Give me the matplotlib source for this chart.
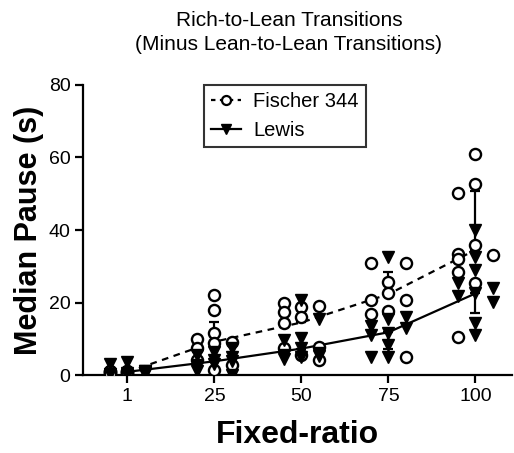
import matplotlib
matplotlib.use("Agg")
import matplotlib.pyplot as plt
import numpy as np

ratios = ["1", "25", "50", "75", "100"]

# individual subjects, per fixed-ratio
fischer_pts = [
    [0.3, 0.5, 0.8, 1.0, 1.0, 1.2, 0.6, 0.9, 1.1, 0.4],
    [22.1, 17.9, 11.5, 9.2, 10.0, 7.4, 4.1, 2.8, 1.4, 8.8],
    [20.0, 18.8, 17.5, 19.0, 16.0, 14.3, 7.8, 7.4, 5.5, 4.1],
    [30.8, 30.8, 25.7, 22.7, 20.7, 20.7, 17.7, 16.8, 4.9],
    [61.0, 52.7, 50.1, 35.9, 33.3, 33.1, 31.9, 28.5, 25.5, 10.6],
]
lewis_pts = [
    [3.6, 3.0, 1.0, 0.5, 0.2, 0.8, 0.3, 1.2, 0.6, 0.0],
    [7.4, 6.3, 5.5, 5.0, 4.1, 4.0, 3.0, 2.8, 1.0, 0.0],
    [20.7, 15.6, 10.1, 9.7, 7.4, 6.0, 5.5, 5.2, 5.0, 4.5],
    [32.6, 16.1, 15.6, 13.5, 12.9, 11.5, 11.0, 8.3, 5.0, 5.0],
    [40.0, 32.6, 29.0, 25.3, 23.9, 22.5, 21.8, 20.2, 14.3, 11.0],
]

fischer_mean = [0.8, 9.2, 14.5, 22.3, 34.5]
fischer_sd = [0.5, 5.3, 4.5, 6.2, 16.3]
lewis_mean = [0.9, 3.8, 7.3, 11.8, 22.5]
lewis_sd = [0.8, 3.0, 2.0, 4.5, 5.5]


def swarm(vals, step=0.2, gap=2.8):
    # spread overlapping points into columns, graphpad style
    cols = [0, -step, step]
    placed = []
    offs = np.zeros(len(vals))
    for i in np.argsort(vals)[::-1]:
        best, bestd = 0, -1
        for c in cols:
            d = min([abs(vals[i] - v) for o, v in placed if o == c] + [99])
            if d >= gap:
                best = c
                break
            if d > bestd:
                best, bestd = c, d
        offs[i] = best
        placed.append((best, vals[i]))
    return offs


plt.rcParams["font.family"] = ["Liberation Sans", "DejaVu Sans"]
fig = plt.figure(figsize=(5.14, 4.53), dpi=100)
ax = fig.add_axes([0.1615, 0.172, 0.8345, 0.6405])

x = np.arange(len(ratios))

ax.errorbar(x, fischer_mean, yerr=[np.zeros(5), fischer_sd], color="black", lw=1.6,
            ls=(0, (3, 2.5)), capsize=3.5, capthick=1.6, zorder=2)
ax.errorbar(x, lewis_mean, yerr=[lewis_sd, np.zeros(5)], color="black", lw=1.6,
            capsize=3.5, capthick=1.6, zorder=2)

for i in range(len(ratios)):
    allv = np.array(fischer_pts[i] + lewis_pts[i])
    offs = swarm(allv)
    nf = len(fischer_pts[i])
    ax.plot(x[i] + offs[:nf], fischer_pts[i], "o", ms=8, mfc="white", mec="black",
            mew=1.7, ls="none", zorder=3)
    ax.plot(x[i] + offs[nf:], lewis_pts[i], "v", ms=8, color="black", ls="none", zorder=4)

# legend handles
ax.plot([], [], marker="o", ms=6.5, mfc="white", mec="black", mew=1.6, color="black",
        ls=(0, (2, 2)), lw=1.6, label="Fischer 344")
ax.plot([], [], marker="v", ms=7.5, color="black", lw=1.6, label="Lewis")
leg = ax.legend(loc="upper center", bbox_to_anchor=(0.47, 1.0), fontsize=14.5,
                frameon=True, fancybox=False, handlelength=1.5, borderpad=0.35,
                labelspacing=0.5, handletextpad=0.6, borderaxespad=0)
leg.get_frame().set_edgecolor("black")
leg.get_frame().set_linewidth(1.5)

ax.set_xlim(-0.51, 4.42)
ax.set_ylim(0, 80)
ax.set_xticks(x)
ax.set_xticklabels(ratios)
ax.set_yticks([0, 20, 40, 60, 80])
ax.spines["top"].set_visible(False)
ax.spines["right"].set_visible(False)
ax.spines["left"].set_linewidth(1.6)
ax.spines["bottom"].set_linewidth(1.6)
ax.tick_params(width=1.6, length=6, labelsize=14, colors="black", pad=3)

ax.set_xlabel("Fixed-ratio", fontsize=23, fontweight="bold", labelpad=11)
ax.set_ylabel("Median Pause (s)", fontsize=22, fontweight="bold", labelpad=3)
fig.text(0.562, 0.975, "Rich-to-Lean Transitions\n(Minus Lean-to-Lean Transitions)",
         fontsize=15, ha="center", va="top", linespacing=1.3)

fig.savefig("out.png", dpi=100)
